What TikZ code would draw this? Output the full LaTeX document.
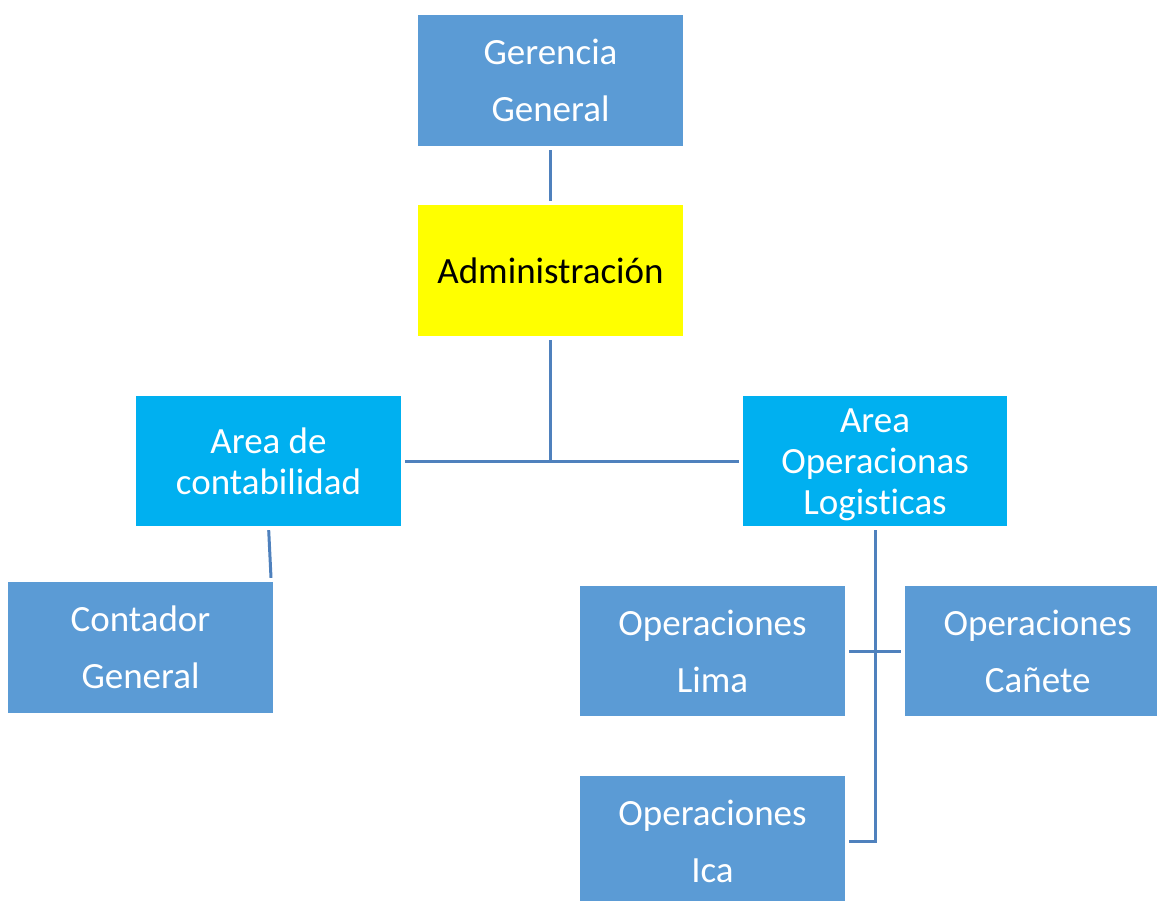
\documentclass[tikz,border=0pt]{standalone}
\usepackage{fontspec}
\setmainfont[Ligatures=CommonOff]{Carlito}
\definecolor{boxblue}{HTML}{5B9BD5}
\definecolor{boxcyan}{HTML}{00B0F0}
\definecolor{boxyellow}{HTML}{FFFF00}
\definecolor{linkblue}{HTML}{4F81BD}
\begin{document}
\begin{tikzpicture}[x=1pt,y=-1pt,
  box/.style={rectangle, inner sep=0pt, minimum width=265pt, minimum height=131pt, align=center, text=white},
  bluebox/.style={box, fill=boxblue, font=\fontsize{37}{57}\selectfont},
  cyanbox/.style={box, fill=boxcyan, minimum height=130pt, font=\fontsize{37}{41}\selectfont},
  yellowbox/.style={box, fill=boxyellow, text=black, font=\fontsize{37}{44}\selectfont},
  link/.style={draw=linkblue, line width=3pt, shorten <=4pt, shorten >=4pt}]
\useasboundingbox (0,0) rectangle (1157,901);
\clip (0,0) rectangle (1157,901);
\node[bluebox] (ger) at (550.5,80.5) {Gerencia\\General};
\node[yellowbox] (adm) at (550.5,270.5) {Administración};
\node[cyanbox] (con) at (268.5,461) {Area de\\contabilidad};
\node[cyanbox, minimum width=264pt] (aop) at (875,461) {\rule{0pt}{32pt}Area\\Operacionas\\Logisticas};
\node[bluebox] (cgen) at (140.5,647.5) {Contador\\General};
\node[bluebox, minimum height=130pt] (lima) at (712.5,651) {Operaciones\\Lima};
\node[bluebox, minimum height=130pt, text width=252pt, minimum width=265pt, anchor=west] (can) at (905,651) {Operaciones\\Cañete};
\node[bluebox] (ica) at (712.5,841.5) {Operaciones\\Ica};
\path[link] (ger.south) -- (adm.north);
\path[link, shorten >=0pt] (adm.south) -- (adm.south |- con.east);
\path[link] (con.east) -- (aop.west);
\path[link] (con.south) -- ([xshift=-2pt]cgen.north east);
\path[link, line join=miter] (aop.south) -- (aop.south |- ica.east) -- (ica.east);
\path[link] (lima.east) -- (can.west);
\end{tikzpicture}
\end{document}
